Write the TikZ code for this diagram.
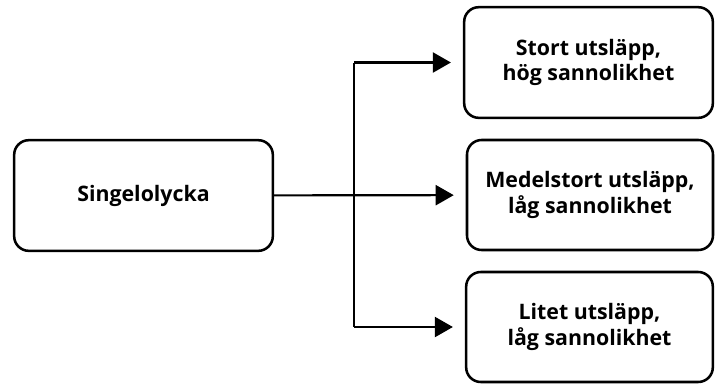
\documentclass[tikz,border=0pt]{standalone}
\usepackage{fontspec}
\setmainfont{Open Sans}
\usetikzlibrary{arrows.meta}

\begin{document}
\begin{tikzpicture}[
                x = 0.75pt, y = -0.75pt,
                box/.style = {draw, line width = 1.9pt, rounded corners = 11pt, align = center,
                              font = \fontsize{16}{19}\selectfont\bfseries},
                arr/.style = {draw, line width = 1.6pt, -{Triangle[length = 13.5pt, width = 15pt]},
                              shorten > = 9pt},
                ln/.style = {draw, line width = 1.6pt},
            ]
            \useasboundingbox (0, 0) rectangle (715, 383);

            \node (S) at (143.5, 195.5) [box, minimum width = 194pt, minimum height = 83pt] {Singelolycka};

            \node (T) at (588.5, 62.5) [box, minimum width = 186.5pt, minimum height = 83pt] {Stort utsläpp,\\hög sannolikhet};
            \node (M) at (590, 195) [box, minimum width = 184.5pt, minimum height = 82.5pt] {Medelstort utsläpp,\\låg sannolikhet};
            \node (L) at (589.5, 327) [box, minimum width = 185pt, minimum height = 82.5pt] {Litet utsläpp,\\låg sannolikhet};

            \coordinate (J1) at (354, 62.5);
            \coordinate (J2) at (354, 327);

            \path[arr] (S) -- (M);
            \path[ln] (J1) -- (J2);
            \path[arr] (J1) -- (T);
            \path[arr] (J2) -- (L);
        \end{tikzpicture}
\end{document}
